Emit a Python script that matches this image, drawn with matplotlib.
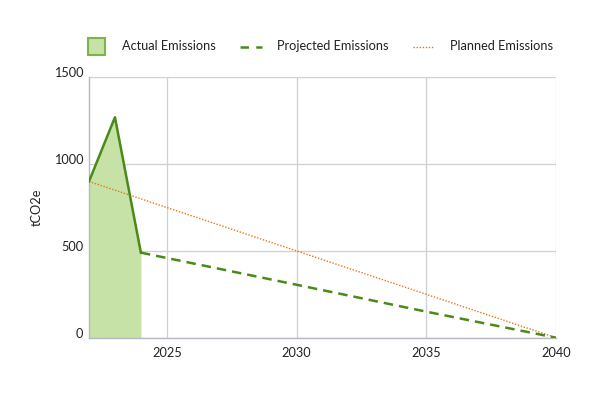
import matplotlib
matplotlib.use("Agg")
import matplotlib.pyplot as plt
from matplotlib.patches import Rectangle
from matplotlib.lines import Line2D

actual_years = [2022, 2023, 2024]
actual_values = [900, 1270, 490]
projected_years = [2024, 2030, 2035, 2040]
projected_values = [490, 305, 150, 0]
planned_years = [2022, 2040]
planned_values = [900, 0]
x_ticks = [2025, 2030, 2035, 2040]
y_ticks = [0, 500, 1000, 1500]
legend_labels = ['Actual Emissions', 'Projected Emissions', 'Planned Emissions']

plt.rcParams['font.family'] = ['Lato', 'DejaVu Sans']

line_green = '#4a8a18'
fill_green = '#c6e2a6'
edge_green = '#7db24c'
orange = '#e07a1c'
grid_c = '#cfcfd6'
text_c = '#222222'
fs = 9.2

W, H = 611, 399
fig = plt.figure(figsize=(W / 100, H / 100), dpi=100)
ax = fig.add_axes([89/W, 1-337.7/H, (556-89)/W, (337.7-77.3)/H])

ax.fill_between(actual_years, actual_values, 0, color=fill_green, lw=0, zorder=1)
ax.plot(actual_years, actual_values, color=line_green, lw=1.8, zorder=3)
ax.plot(projected_years, projected_values, color=line_green, lw=1.8,
        dashes=(3.8, 2.4), zorder=3)
ax.plot(planned_years, planned_values, color=orange, lw=1.0,
        dashes=(1, 1.2), zorder=2)

ax.set_xlim(2022, 2040)
ax.set_ylim(0, 1500)
ax.set_xticks(x_ticks)
ax.set_yticks(y_ticks)
ax.grid(True, color=grid_c, lw=0.9, zorder=0)
ax.set_axisbelow(True)
for s in ['top', 'right']:
    ax.spines[s].set_visible(False)
for s in ['left', 'bottom']:
    ax.spines[s].set_color('#b8b8c0')
    ax.spines[s].set_linewidth(1.0)
ax.tick_params(length=0, labelsize=fs, colors=text_c)
ax.tick_params(axis='x', pad=7)
ax.tick_params(axis='y', pad=4)
for lbl in ax.get_yticklabels():
    lbl.set_verticalalignment('baseline')
ax.set_ylabel('tCO2e', fontsize=fs, color=text_c, labelpad=8)

# legend drawn manually in figure pixel coordinates
def fx(px):
    return px / W

def fy(py):
    return 1 - py / H

ly = 46.5
fig.add_artist(Rectangle((fx(88), fy(55)), 17/W, 17/H, facecolor=fill_green,
                         edgecolor=edge_green, lw=1.5, transform=fig.transFigure))
fig.text(fx(122), fy(ly), legend_labels[0], fontsize=fs, color=text_c, va='center')
fig.add_artist(Line2D([fx(240), fx(262)], [fy(ly), fy(ly)], color=line_green,
                      lw=1.8, dashes=(3.4, 2.9), transform=fig.transFigure))
fig.text(fx(277), fy(ly), legend_labels[1], fontsize=fs, color=text_c, va='center')
fig.add_artist(Line2D([fx(413), fx(434)], [fy(ly), fy(ly)], color=orange,
                      lw=1.0, dashes=(1, 1.2), transform=fig.transFigure))
fig.text(fx(450), fy(ly), legend_labels[2], fontsize=fs, color=text_c, va='center')

fig.savefig('out.png', dpi=100, facecolor='white')
